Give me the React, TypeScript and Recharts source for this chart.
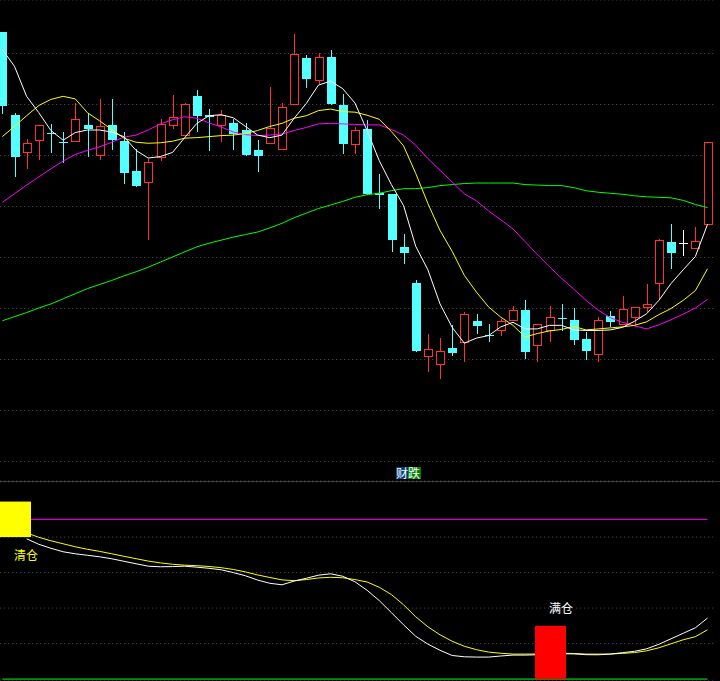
import { ComposedChart, Bar, Line, XAxis, YAxis, CartesianGrid, ReferenceLine } from 'recharts';

// daily candles
const opens = [
  16.43, 14.8, 14.06, 14.31, 14.44, 14.27, 14.28, 14.59, 14.01, 14.59,
  14.29, 13.69, 13.48, 13.98, 14.6, 14.41, 15.16, 14.8, 14.6, 14.64,
  14.5, 14.1, 14.24, 14.13, 15.01, 15.92, 15.48, 15.94, 15.0, 14.23,
  14.51, 13.27, 13.24, 12.2, 11.5, 10.06, 9.92, 10.22, 10.35, 10.75,
  10.49, 10.58, 10.78, 10.98, 10.28, 10.58, 10.82, 10.78, 10.41, 10.1,
  10.86, 10.7, 10.83, 11.03, 11.5, 12.31, 12.29, 12.19, 12.66,
];
const highs = [
  16.43, 14.84, 14.33, 14.59, 14.62, 14.47, 15.03, 14.84, 15.11, 15.1,
  14.47, 14.12, 13.94, 14.72, 15.18, 15.03, 15.29, 14.92, 14.9, 14.72,
  14.64, 14.31, 15.35, 15.02, 16.39, 15.98, 16.01, 16.06, 15.21, 14.56,
  14.69, 13.63, 13.24, 12.46, 11.56, 10.5, 10.43, 10.67, 10.94, 10.9,
  10.7, 10.8, 11.04, 11.16, 10.7, 11.04, 11.08, 11.01, 10.53, 10.84,
  10.96, 11.25, 11.03, 11.49, 12.37, 12.66, 12.53, 12.6, 14.27,
];
const lows = [
  14.84, 13.59, 13.75, 13.94, 14.06, 13.88, 14.28, 14.0, 13.93, 14.12,
  13.46, 13.4, 12.37, 13.92, 14.54, 14.41, 14.49, 14.11, 14.29, 14.12,
  14.01, 13.69, 14.24, 14.13, 15.01, 15.35, 15.43, 15.01, 14.05, 14.05,
  13.24, 12.97, 12.12, 11.89, 10.16, 9.78, 9.63, 10.08, 9.98, 10.52,
  10.36, 10.49, 10.78, 10.03, 9.98, 10.37, 10.58, 10.3, 10.01, 9.98,
  10.65, 10.7, 10.68, 10.95, 11.2, 11.79, 12.05, 12.19, 12.66,
];
const closes = [
  14.98, 13.98, 14.24, 14.59, 14.43, 14.26, 14.72, 14.51, 14.58, 14.3,
  13.65, 13.4, 13.88, 14.62, 14.76, 15.01, 14.77, 14.75, 14.8, 14.43,
  14.01, 13.99, 14.54, 14.96, 15.99, 15.5, 15.94, 15.01, 14.22, 14.5,
  13.24, 13.22, 12.34, 12.08, 10.16, 10.21, 10.17, 10.12, 10.9, 10.65,
  10.48, 10.76, 10.97, 10.14, 10.7, 10.84, 10.79, 10.39, 10.16, 10.78,
  10.74, 10.99, 11.03, 11.08, 12.35, 12.08, 12.29, 12.33, 14.27,
];

// moving averages as drawn
const ma5 = [
  16.08, 15.75, 15.16, 14.84, 14.49, 14.3, 14.45, 14.5, 14.5, 14.46,
  14.37, 14.1, 13.95, 13.98, 14.06, 14.35, 14.63, 14.78, 14.8, 14.74,
  14.57, 14.4, 14.35, 14.4, 14.73, 15.02, 15.38, 15.46, 15.31, 15.03,
  14.49, 13.9, 13.43, 13.02, 12.22, 11.76, 11.09, 10.63, 10.32, 10.42,
  10.47, 10.64, 10.73, 10.6, 10.6, 10.67, 10.67, 10.58, 10.57, 10.57,
  10.58, 10.63, 10.75, 10.9, 11.16, 11.49, 11.76, 12.02, 12.65,
];
const ma10 = [
  14.37, 14.57, 14.78, 14.98, 15.1, 15.16, 15.11, 14.84, 14.68, 14.51,
  14.34, 14.26, 14.24, 14.25, 14.28, 14.34, 14.35, 14.37, 14.39, 14.4,
  14.43, 14.49, 14.57, 14.63, 14.73, 14.78, 14.88, 14.91, 14.86, 14.85,
  14.79, 14.71, 14.47, 14.19, 13.65, 13.06, 12.53, 12.12, 11.65, 11.32,
  11.03, 10.83, 10.67, 10.44, 10.51, 10.56, 10.59, 10.65, 10.58, 10.6,
  10.62, 10.64, 10.67, 10.74, 10.88, 11.0, 11.16, 11.35, 11.78,
];
const ma20 = [
  13.08, 13.25, 13.42, 13.58, 13.74, 13.89, 14.02, 14.1, 14.17, 14.26,
  14.36, 14.4, 14.5, 14.62, 14.7, 14.76, 14.73, 14.64, 14.56, 14.46,
  14.41, 14.39, 14.4, 14.42, 14.49, 14.55, 14.62, 14.63, 14.62, 14.61,
  14.6, 14.6, 14.51, 14.4, 14.2, 13.94, 13.71, 13.48, 13.25, 13.11,
  12.91, 12.74, 12.56, 12.31, 12.06, 11.82, 11.59, 11.38, 11.16, 10.97,
  10.82, 10.73, 10.66, 10.6, 10.68, 10.78, 10.89, 11.01, 11.18,
];
const ma60 = [
  10.76, 10.84, 10.92, 11.01, 11.09, 11.19, 11.29, 11.39, 11.47, 11.55,
  11.64, 11.72, 11.81, 11.91, 12.01, 12.11, 12.21, 12.28, 12.34, 12.4,
  12.45, 12.5, 12.58, 12.67, 12.78, 12.87, 12.96, 13.03, 13.1, 13.18,
  13.23, 13.26, 13.31, 13.35, 13.35, 13.37, 13.41, 13.43, 13.45, 13.46,
  13.46, 13.46, 13.46, 13.43, 13.42, 13.41, 13.41, 13.37, 13.31, 13.28,
  13.26, 13.24, 13.21, 13.19, 13.18, 13.17, 13.12, 13.04, 12.98,
];

// lower indicator (财跌)
const fastLine = [
  null, null, 79.04, 75.94, 73.69, 71.72, 70.59, 69.75, 68.9, 67.77,
  66.37, 64.96, 63.61, 63.27, 63.38, 63.61, 63.04, 62.42, 61.58, 60.0,
  58.2, 55.77, 53.97, 53.13, 55.21, 56.79, 58.54, 59.32, 57.92, 54.82,
  50.03, 44.23, 37.46, 30.59, 24.11, 19.72, 16.23, 13.3, 12.56, 12.39,
  12.39, 13.01, 13.52, 13.52, 13.69, 13.97, 14.25, 14.2, 13.75, 13.69,
  14.08, 14.87, 15.66, 17.07, 19.61, 22.7, 25.8, 28.9, 34.37,
];
const slowLine = [
  null, null, 82.31, 79.89, 77.92, 76.23, 74.54, 73.13, 71.94, 70.59,
  69.18, 67.83, 66.48, 65.46, 64.68, 64.17, 63.89, 63.44, 62.76, 61.75,
  60.39, 58.65, 57.24, 55.89, 55.44, 56.06, 56.96, 57.35, 57.07, 56.06,
  54.7, 51.72, 47.61, 41.86, 35.1, 29.46, 24.96, 21.3, 18.48, 16.56,
  15.21, 14.54, 14.08, 14.08, 14.14, 14.31, 14.54, 14.42, 14.08, 14.08,
  14.08, 14.48, 14.93, 15.94, 17.63, 19.89, 22.14, 23.89, 27.77,
];
const signalIdx = [1, 45];
const signalLow = [80, 0];
const signalHigh = [100, 30];
const signalText = ['清仓', '满仓'];
const upperLevel = 90;
const baseLevel = 0;

const priceTicks = [8, 9, 10, 11, 12, 13, 14, 15, 16];
const lowerTicks = [20, 40, 60, 80];

const rows = opens.map((open, i) => ({
  idx: i,
  open,
  high: highs[i],
  low: lows[i],
  close: closes[i],
  ma5: ma5[i],
  ma10: ma10[i],
  ma20: ma20[i],
  ma60: ma60[i],
}));

const lowerRows = opens.map((_, i) => {
  const s = signalIdx.indexOf(i);
  return {
    idx: i,
    fast: fastLine[i],
    slow: slowLine[i],
    box: s >= 0 ? [signalLow[s], signalHigh[s]] : null,
    sig: s,
  };
});

const UP = '#ff3232';
const DOWN = '#54ffff';
const MARGIN = { top: 0, right: 6.4, bottom: 0, left: -3.78 };

function Candle(props: any) {
  const { x, y, width, height, payload } = props;
  if (!payload || payload.high == null) return null;
  const { open, close, high, low } = payload;
  const top = Math.min(y, y + height);
  const bottom = Math.max(y, y + height);
  const ratio = high > low ? (bottom - top) / (high - low) : 0;
  const toY = (v: number) => Math.round(top + (high - v) * ratio);
  const cx = Math.round(x + width / 2);
  const hy = toY(high);
  const ly = toY(low);
  const bt = toY(Math.max(open, close));
  const bb = toY(Math.min(open, close));

  if (close > open) {
    return (
      <g>
        {bt > hy && <rect x={cx} y={hy} width={1} height={bt - hy} fill={UP} />}
        {ly > bb && <rect x={cx} y={bb} width={1} height={ly - bb + 1} fill={UP} />}
        <rect x={cx - 3.5} y={bt + 0.5} width={8} height={Math.max(1, bb - bt)} fill="#000" stroke={UP} strokeWidth={1} />
      </g>
    );
  }
  const color = close < open ? DOWN : '#ffffff';
  return (
    <g>
      <rect x={cx} y={hy} width={1} height={ly - hy + 1} fill={color} />
      <rect x={cx - 4} y={bt} width={9} height={Math.max(1, bb - bt)} fill={color} />
    </g>
  );
}

function SignalBox(props: any) {
  const { x, y, width, height, payload } = props;
  if (!payload || payload.sig == null || payload.sig < 0) return null;
  const top = Math.min(y, y + height);
  const bottom = Math.max(y, y + height);
  const cx = x + width / 2;
  const isSell = payload.sig === 0;
  const fill = isSell ? '#ffff00' : '#ff0000';
  return (
    <g>
      <rect x={Math.round(cx - 15)} y={top} width={31} height={bottom - top} fill={fill} />
      <text
        x={Math.round(cx) - 1}
        y={isSell ? bottom + 23 : top - 13}
        fill={isSell ? '#ffff00' : '#ffffff'}
        fontSize={12}
        fontFamily="'Noto Sans CJK SC', sans-serif"
      >
        {signalText[payload.sig]}
      </text>
    </g>
  );
}

const lineProps = { dot: false, activeDot: false, strokeWidth: 1, isAnimationActive: false } as const;

export default function App() {
  return (
    <div
      style={{
        position: 'absolute',
        left: 0,
        top: 0,
        width: 720,
        height: 681,
        background: '#000',
        overflow: 'hidden',
      }}
    >
      <div style={{ position: 'absolute', left: 0, top: 0 }}>
        <ComposedChart width={720} height={481} data={rows} margin={MARGIN}>
          <CartesianGrid vertical={false} stroke="#555" strokeDasharray="1 3" />
          <XAxis dataKey="idx" type="category" hide />
          <YAxis hide domain={[7.618, 17.049]} ticks={priceTicks} allowDataOverflow />
          <Bar dataKey={(d: any) => [d.low, d.high]} shape={<Candle />} isAnimationActive={false} />
          <Line dataKey="ma60" stroke="#00ff00" {...lineProps} />
          <Line dataKey="ma20" stroke="#ff00ff" {...lineProps} />
          <Line dataKey="ma10" stroke="#ffff00" {...lineProps} />
          <Line dataKey="ma5" stroke="#ffffff" {...lineProps} />
        </ComposedChart>
      </div>

      <div
        style={{
          position: 'absolute',
          left: 396,
          top: 467,
          fontFamily: "'Noto Sans CJK SC', sans-serif",
          fontSize: 12,
          lineHeight: '12px',
          color: '#fff',
          display: 'flex',
        }}
      >
        <span style={{ background: '#003c78', width: 12, height: 12, display: 'inline-block' }}>财</span>
        <span style={{ background: '#008000', width: 13, height: 12, display: 'inline-block' }}>跌</span>
      </div>

      <div style={{ position: 'absolute', left: 0, top: 481, width: 720, height: 1, background: '#3a3a3a' }} />

      <div style={{ position: 'absolute', left: 0, top: 482 }}>
        <ComposedChart width={720} height={199} data={lowerRows} margin={MARGIN}>
          <CartesianGrid vertical={false} stroke="#555" strokeDasharray="1 3" />
          <XAxis dataKey="idx" type="category" hide />
          <YAxis hide domain={[-1.08, 111.03]} ticks={lowerTicks} allowDataOverflow />
          <ReferenceLine
            segment={[{ x: 0, y: upperLevel }, { x: 58, y: upperLevel }]}
            stroke="#ff00ff"
            strokeWidth={1}
          />
          <ReferenceLine
            segment={[{ x: 0, y: baseLevel }, { x: 58, y: baseLevel }]}
            stroke="#00ff00"
            strokeWidth={1}
          />
          <Line dataKey="slow" stroke="#ffff00" {...lineProps} />
          <Line dataKey="fast" stroke="#ffffff" {...lineProps} />
          <Bar dataKey="box" shape={<SignalBox />} isAnimationActive={false} zIndex={1000} />
        </ComposedChart>
      </div>
    </div>
  );
}
